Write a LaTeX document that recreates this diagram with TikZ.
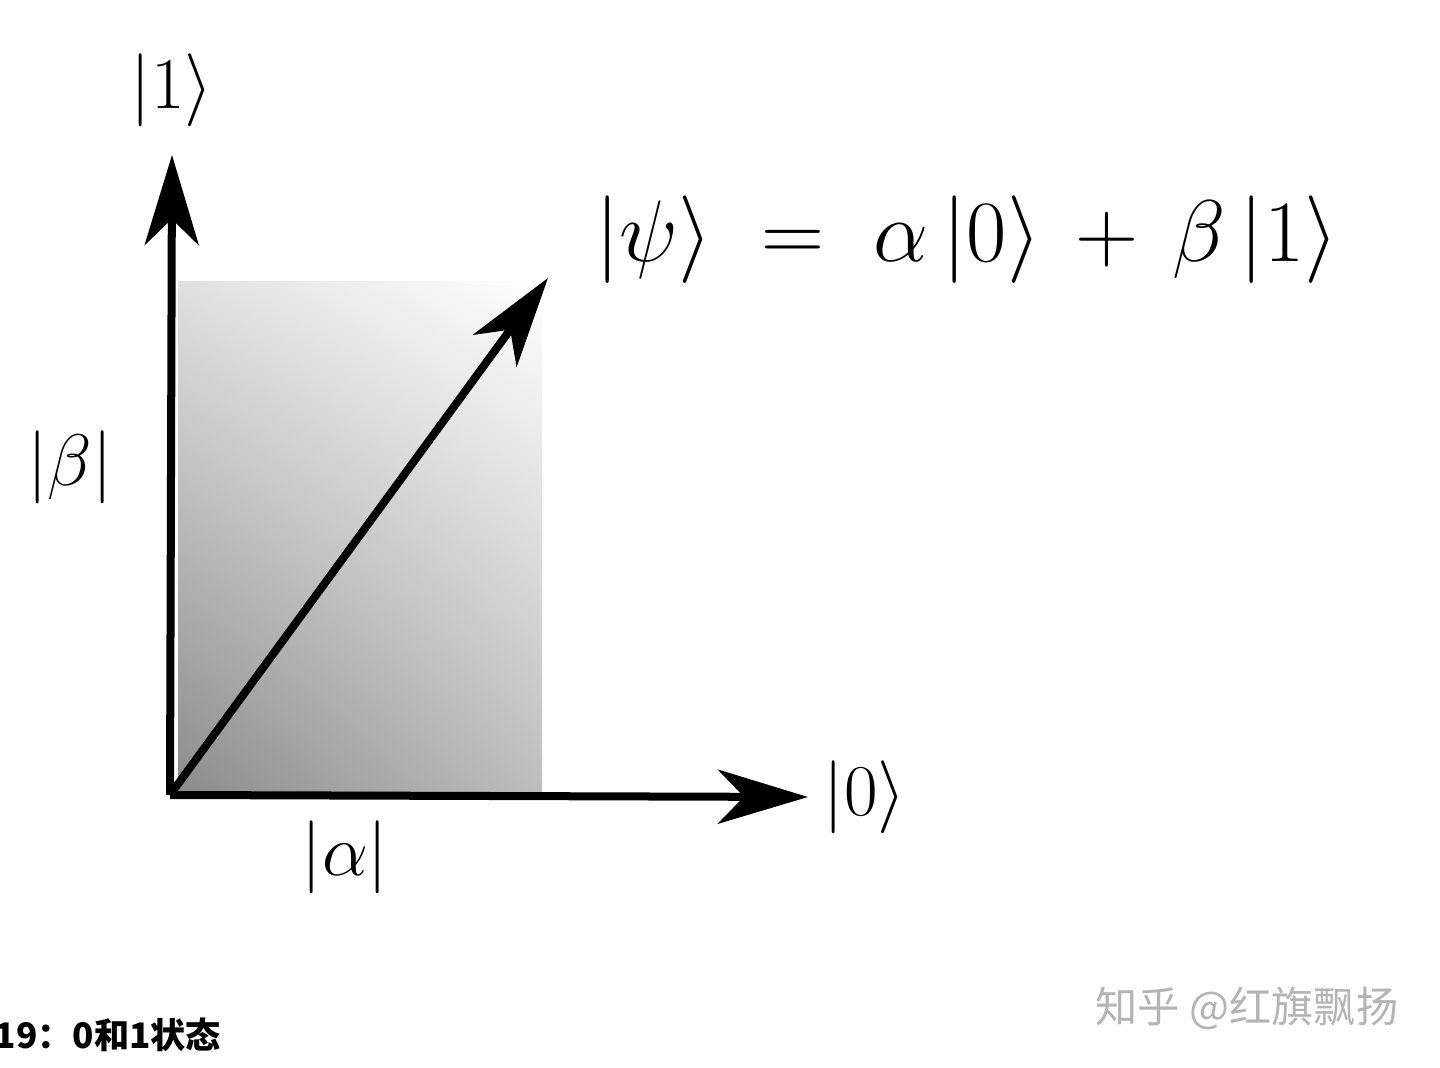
\documentclass[tikz,border=0pt]{standalone}
\usepackage{fontspec}
\newfontfamily\cjk{Noto Sans CJK SC}
\usetikzlibrary{arrows.meta,shadings}
\definecolor{shadeLL}{HTML}{8C8C8C}
\definecolor{shadeUL}{HTML}{E0E0E0}
\definecolor{shadeLR}{HTML}{BDBDBD}
\definecolor{wm}{HTML}{B4B4B4}
\tikzset{
  axis/.style={line width=0.08cm, -{Stealth[length=0.9cm,width=0.54cm,inset=0.26cm]}},
  lbl/.style={inner sep=0pt, font=#1},
}
\begin{document}
\begin{tikzpicture}[x=0.01cm,y=-0.01cm]
\useasboundingbox[fill=white] (0,0) rectangle (1440,1068);
\shade[upper left=shadeUL, upper right=white, lower left=shadeLL, lower right=shadeLR] (178,282) rectangle (542,793);
\coordinate (O) at (170,795);
\coordinate (Y) at (172,155);
\coordinate (X) at (808,797);
\coordinate (P) at (548,278);
\draw[axis] (O) -- (Y);
\draw[axis] (O) -- (X);
\draw[axis] (O) -- (P);
\node[lbl={\fontsize{22pt}{26pt}\selectfont}] (one) at (172,90) {$|1\rangle$};
\node[lbl={\fontsize{22pt}{26pt}\selectfont}] (zero) at (865,797) {$|0\rangle$};
\node[lbl={\fontsize{22pt}{26pt}\selectfont}] (beta) at (70,467) {$|\beta|$};
\node[lbl={\fontsize{20pt}{24pt}\selectfont}] (alpha) at (345,857) {$|\alpha|$};
\node[lbl={\fontsize{26pt}{30pt}\selectfont}] (eq) at (967,240) {$|\psi\rangle\;=\;\alpha\,|0\rangle\,+\,\beta\,|1\rangle$};
\node[lbl={\cjk\bfseries\fontsize{10pt}{12pt}\selectfont}, anchor=west] (cap) at (-6,1035) {19：0和1状态};
\node[lbl={\cjk\fontsize{12pt}{14pt}\selectfont}, text=wm] (mark) at (1247,1008) {知乎 @红旗飘扬};
\end{tikzpicture}
\end{document}
